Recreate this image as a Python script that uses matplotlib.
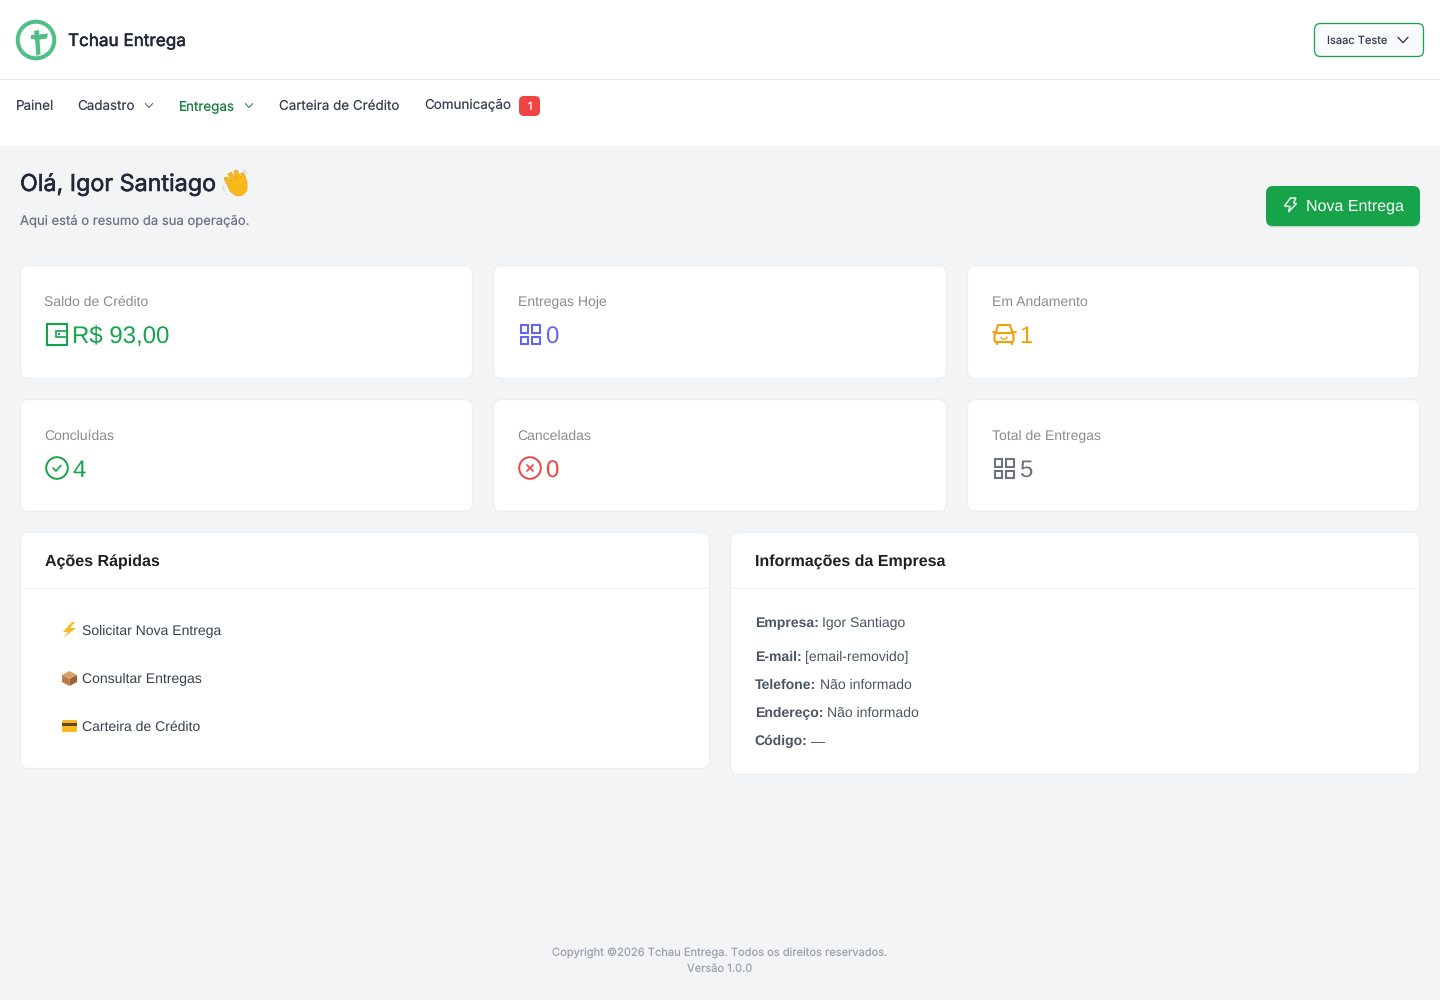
import matplotlib
matplotlib.use("Agg")
import matplotlib.pyplot as plt
import matplotlib.patheffects as pe
from matplotlib.patches import FancyBboxPatch, Circle, Polygon, Rectangle

plt.rcParams["text.hinting"] = "none"

# dashboard content
brand = "Tchau Entrega"
user_name = "Isaac Teste"
nav_labels = ["Painel", "Cadastro", "Entregas", "Carteira de Crédito", "Comunicação"]
badge_count = "1"
greeting = "Olá, Igor Santiago"
subtitle = "Aqui está o resumo da sua operação."
button_label = "Nova Entrega"
card_labels = ["Saldo de Crédito", "Entregas Hoje", "Em Andamento", "Concluídas", "Canceladas", "Total de Entregas"]
card_values = ["R$ 93,00", "0", "1", "4", "0", "5"]
actions_title = "Ações Rápidas"
actions = ["Solicitar Nova Entrega", "Consultar Entregas", "Carteira de Crédito"]
info_title = "Informações da Empresa"
info_keys = ["Empresa:", "E-mail:", "Telefone:", "Endereço:", "Código:"]
info_vals = ["Igor Santiago", "[email-removido]", "Não informado", "Não informado", "—"]
footer = ["Copyright ©2026 Tchau Entrega. Todos os direitos reservados.", "Versão 1.0.0"]

GREEN = "#16a34a"
INDIGO = "#6366f1"
AMBER = "#f59e0b"
RED = "#ef4444"
GREY = "#6b7280"
card_colors = [GREEN, INDIGO, AMBER, GREEN, RED, GREY]

fig = plt.figure(figsize=(14.4, 10), dpi=100, facecolor="#f3f4f6")
ax = fig.add_axes([0, 0, 1, 1])
ax.set_xlim(0, 1440)
ax.set_ylim(1000, 0)
ax.axis("off")


def box(x0, y0, x1, y1, r, fc, ec="none", lw=1, z=1):
    p = FancyBboxPatch((x0 + r, y0 + r), x1 - x0 - 2 * r, y1 - y0 - 2 * r,
                       boxstyle=f"round,pad={r},rounding_size={r}", fc=fc, ec=ec, lw=lw, zorder=z)
    ax.add_patch(p)


def txt(x, y, s, px, color, font="Inter", weight="normal", ha="left", stroke=0):
    t = ax.text(x, y, s, fontsize=px * 0.72, color=color, family=font, weight=weight,
                ha=ha, va="baseline", zorder=5)
    if stroke:
        # Inter only comes in one weight here, thicken it a bit
        t.set_path_effects([pe.withStroke(linewidth=stroke, foreground=color)])
    return t


def line(xs, ys, color, lw=1.5, z=4):
    ax.plot(xs, ys, color=color, lw=lw, solid_capstyle="round", solid_joinstyle="round", zorder=z)


def chevron(cx, cy, w, h, color, lw=0.7):
    line([cx - w, cx, cx + w], [cy - h, cy + h, cy - h], color, lw)


def grid_icon(x, y, color):
    for dx in (0, 11.5):
        for dy in (0, 11.5):
            ax.add_patch(Rectangle((x + dx, y + dy), 7.5, 7.5, fc="none", ec=color, lw=1.5, zorder=4))


# header and nav
ax.add_patch(Rectangle((0, 0), 1440, 146, fc="white", ec="none", zorder=0))
ax.add_patch(Rectangle((0, 79), 1440, 1, fc="#e5e7eb", ec="none", zorder=1))
ax.add_patch(Circle((36, 40), 18.3, fc="none", ec="#4fbf87", lw=2.9, zorder=4))
ax.add_patch(Polygon([[34, 31], [39, 30], [39, 34.5], [48, 33.5], [47, 38.5], [39.5, 39.5], [40.5, 54],
                      [36.5, 56], [35, 39.5], [31, 39], [31, 35], [34.5, 35]],
                     fc="#4fbf87", ec="none", zorder=4))
txt(68, 46, brand, 17.1, "#1f2937", stroke=0.35)

box(1314.5, 23.5, 1423.5, 56.5, 6, "#f9fafb", GREEN, 0.9)
txt(1327, 44, user_name, 11.1, "#374151")
chevron(1403, 40, 5, 2.7, "#374151", 1.0)

nav_x = [16, 77, 179, 279, 424]
nav_y = [110, 110, 110, 110, 109.5]
nav_c = ["#374151", "#374151", "#15803d", "#374151", "#374151"]
for x, y, lab, c in zip(nav_x, nav_y, nav_labels, nav_c):
    txt(x, y, lab, 13.4, c)
chevron(149, 105.5, 3.7, 2, "#4b5563")
chevron(249, 105.5, 3.7, 2, "#15803d")
box(519, 96, 540, 116, 5, RED)
txt(529.5, 110, badge_count, 11, "white", ha="center")

# greeting
txt(20, 191, greeting, 23.3, "#1f2937", stroke=0.4)
txt(20, 224.5, subtitle, 13.05, GREY)
# waving hand drawn by hand, no emoji font here
ax.add_patch(Polygon([[224, 178], [227, 177], [232, 182], [228, 174], [231, 172], [236, 179], [234, 171],
                      [237, 170], [241, 178], [241, 173], [244, 173], [247, 182], [247, 190], [243, 195],
                      [236, 196], [230, 191]], fc="#f9b81c", ec="#e9a20f", lw=0.5, zorder=4))
line([223, 224.5], [187, 191], "#d5d9de", 1)
line([243, 247], [170, 173], "#d5d9de", 1)

box(1266, 188, 1420, 227.5, 7, "#c3dfcc")
box(1266, 186, 1420, 226, 7, GREEN, z=2)
txt(1306, 211, button_label, 16, "white", font="Liberation Sans")
ax.add_patch(Polygon([[1290.5, 198], [1296, 198], [1293.5, 203], [1296.5, 203.5], [1288.5, 212], [1290, 206.5], [1284.5, 206]],
                     fc="none", ec="white", lw=1.0, zorder=4))

# stat cards
col_x = [(20, 473), (493, 947), (967, 1420)]
row_y = [(265, 379), (399, 512)]
for i in range(6):
    x0, x1 = col_x[i % 3]
    y0, y1 = row_y[i // 3]
    c = card_colors[i]
    box(x0 + 0.5, y0 + 0.5, x1 - 0.5, y1 - 0.5, 8, "white", "#eceef1", 0.9)
    txt(x0 + 25 - 0.5, y0 + 41, card_labels[i], 14, "#8c8c8c", font="Liberation Sans")
    vx = x0 + 52.5
    # round zeros sit a hair off the baseline when rasterised
    vy = y0 + 78.5 if card_values[i] == "0" else y0 + 78
    txt(vx, vy, card_values[i], 24, c, font="Liberation Sans")
    ix, iy = x0 + 25, y0 + 58

    if i == 0:  # wallet
        ax.add_patch(Rectangle((ix + 1.5, iy + 0.5), 20.5, 21, fc="none", ec=c, lw=1.5, zorder=4))
        ax.add_patch(Rectangle((ix + 11, iy + 8), 11, 6, fc="none", ec=c, lw=1.2, zorder=4))
        ax.add_patch(Rectangle((ix + 13, iy + 10), 2, 2, fc=c, ec="none", zorder=4))
    elif i in (1, 5):  # grid
        grid_icon(ix + 2.5, iy + 2, c)
    elif i == 2:  # car
        line([ix + 3.5, ix + 6, ix + 18, ix + 20.5], [iy + 10, iy + 2, iy + 2, iy + 10], c, 1.5)
        ax.add_patch(FancyBboxPatch((ix + 2.5, iy + 10), 19, 9, boxstyle="round,pad=0,rounding_size=2",
                                    fc="none", ec=c, lw=1.5, zorder=4))
        line([ix + 0.5, ix + 3.5], [iy + 9, iy + 9], c, 1.3)
        line([ix + 20.5, ix + 23.5], [iy + 9, iy + 9], c, 1.3)
        line([ix + 9, ix + 10, ix + 14, ix + 15], [iy + 14, iy + 16, iy + 16, iy + 14], c, 1.0)
        line([ix + 4.5, ix + 4.5], [iy + 19, iy + 21], c, 1.6)
        line([ix + 19.5, ix + 19.5], [iy + 19, iy + 21], c, 1.6)
    elif i == 3:  # check
        ax.add_patch(Circle((ix + 12, iy + 11), 10.8, fc="none", ec=c, lw=1.4, zorder=4))
        line([ix + 8, ix + 11, ix + 16], [iy + 11, iy + 14, iy + 8.5], c, 1.2)
    elif i == 4:  # x
        ax.add_patch(Circle((ix + 12, iy + 11), 10.8, fc="none", ec=c, lw=1.4, zorder=4))
        line([ix + 9, ix + 15], [iy + 8, iy + 14], c, 1.2)
        line([ix + 15, ix + 9], [iy + 8, iy + 14], c, 1.2)

# panels
box(20.5, 532.5, 709.5, 768.5, 8, "white", "#eceef1", 0.9)
box(730.5, 532.5, 1419.5, 774.5, 8, "white", "#eceef1", 0.9)
line([21, 709], [588, 588], "#eeeff1", 0.8)
line([731, 1419], [588, 588], "#eeeff1", 0.8)
txt(45, 566.5, actions_title, 16, "#1f1f1f", font="Liberation Sans", weight="bold")
txt(755, 566, info_title, 16, "#1f1f1f", font="Liberation Sans", weight="bold")

for lab, y in zip(actions, [635, 683, 731]):
    txt(82, y, lab, 14, "#374151", font="Liberation Sans")

# bolt emoji
ax.add_patch(Polygon([[72, 622], [63, 632], [68, 632], [63, 638], [76, 628], [70, 628], [75, 622]],
                     fc="#f9b81c", ec="none", zorder=4))
# box emoji
ax.add_patch(Polygon([[62, 675], [69.5, 671], [77, 675], [69.5, 679]], fc="#d9a066", ec="none", zorder=4))
ax.add_patch(Polygon([[62, 675], [69.5, 679], [69.5, 686], [62, 682]], fc="#b97a45", ec="none", zorder=4))
ax.add_patch(Polygon([[77, 675], [69.5, 679], [69.5, 686], [77, 682]], fc="#9c6233", ec="none", zorder=4))
# card emoji
box(62, 720, 77, 732, 1.5, "#f9b81c", z=4)
ax.add_patch(Rectangle((62, 723), 15, 3, fc="#5c4a1c", ec="none", zorder=4))

renderer = fig.canvas.get_renderer()
for k, v, y in zip(info_keys, info_vals, [627, 661, 689, 717, 745]):
    t = txt(754.6, y, k, 14, "#4b5563", font="Liberation Sans", weight="bold")
    w = t.get_window_extent(renderer).width
    txt(754.6 + w + 4, y, v, 14, "#4b5563", font="Liberation Sans")

# footer
txt(720, 956.5, footer[0], 11.15, "#9ca3af", ha="center")
txt(720, 972, footer[1], 11.15, "#9ca3af", ha="center")

fig.savefig("out.png", dpi=100, facecolor=fig.get_facecolor())
